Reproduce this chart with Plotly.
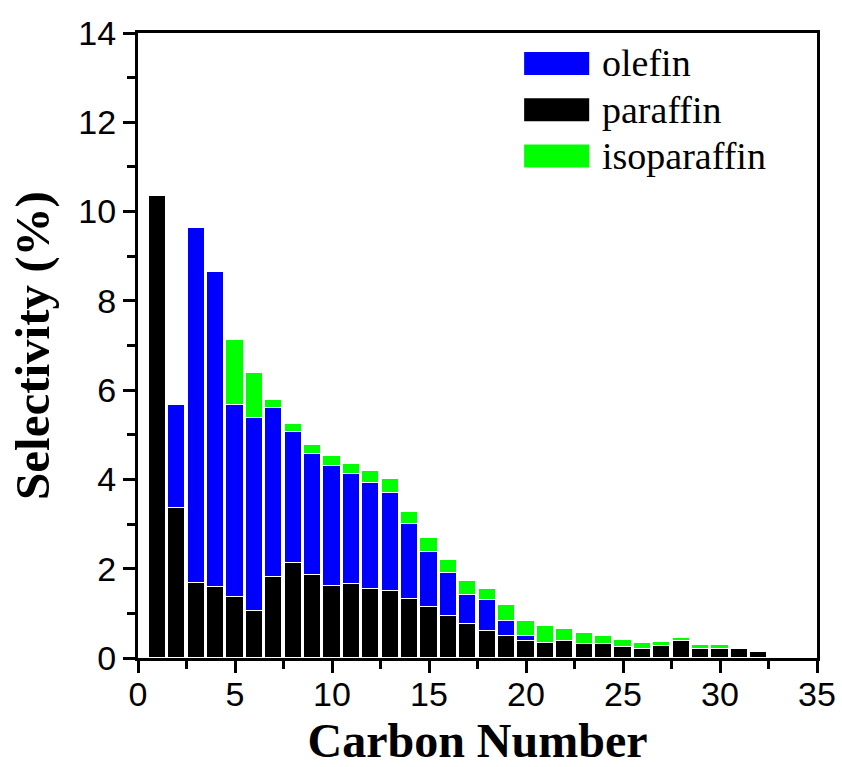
import plotly.graph_objects as go

carbon = list(range(1, 33))
paraffin = [10.35, 3.36, 1.68, 1.60, 1.36, 1.06, 1.81, 2.13, 1.85, 1.61,
            1.66, 1.55, 1.49, 1.32, 1.14, 0.95, 0.77, 0.61, 0.49, 0.39,
            0.34, 0.37, 0.31, 0.31, 0.25, 0.21, 0.28, 0.37, 0.20, 0.20,
            0.20, 0.14]
olefin = [None, 2.30, 7.95, 7.05, 4.30, 4.32, 3.80, 2.93, 2.73, 2.68,
          2.46, 2.36, 2.21, 1.69, 1.24, 0.96, 0.64, 0.69, 0.34, 0.10,
          None, None, None, None, None, None, None, None, None, None,
          None, None]
isoparaffin = [None, None, None, None, 1.46, 1.01, 0.17, 0.19, 0.20, 0.23,
               0.23, 0.28, 0.30, 0.27, 0.31, 0.28, 0.32, 0.24, 0.35, 0.34,
               0.37, 0.27, 0.24, 0.19, 0.15, 0.12, 0.08, 0.07, 0.09, 0.09,
               None, None]

legend_names = ["olefin", "paraffin", "isoparaffin"]
legend_colors = ["#0000FF", "#000000", "#00FF00"]

fig = go.Figure()
for name, vals, col in [("paraffin", paraffin, "#000000"),
                        ("olefin", olefin, "#0000FF"),
                        ("isoparaffin", isoparaffin, "#00FF00")]:
    fig.add_trace(go.Bar(x=carbon, y=vals, name=name, width=0.88,
                         marker=dict(color=col, line=dict(color="white", width=1)),
                         showlegend=False))

# custom legend with wide colour boxes
for i, (nm, col) in enumerate(zip(legend_names, legend_colors)):
    y0 = 0.9695 - i * 0.0740
    fig.add_shape(type="rect", xref="paper", yref="paper",
                  x0=0.5687, x1=0.6645, y0=y0 - 0.0365, y1=y0,
                  fillcolor=col, line=dict(width=0), layer="above")
    fig.add_annotation(xref="paper", yref="paper", x=0.680, y=y0 - 0.018,
                       text=nm, showarrow=False, xanchor="left", yanchor="middle",
                       font=dict(family="Liberation Serif", size=38, color="black"))

axis_common = dict(showline=True, linecolor="black", linewidth=3, mirror=True,
                   ticks="outside", tickwidth=3, tickcolor="black", ticklen=12,
                   showgrid=False, zeroline=False, automargin=False,
                   tickfont=dict(family="Liberation Sans", size=34, color="black"))

fig.update_layout(
    width=842, height=767,
    margin=dict(l=138, r=25, t=33, b=109, autoexpand=False),
    plot_bgcolor="white", paper_bgcolor="white",
    barmode="stack", bargap=0,
    xaxis=dict(range=[0, 35], tick0=0, dtick=5, ticklabelstandoff=-8,
               minor=dict(ticks="outside", dtick=2.5, ticklen=8, tickwidth=3, tickcolor="black"),
               title=dict(text="<b>Carbon Number</b>", standoff=20,
                          font=dict(family="Liberation Serif", size=48, color="black")),
               **axis_common),
    yaxis=dict(range=[0, 14], tick0=0, dtick=2,
               minor=dict(ticks="outside", dtick=1, ticklen=8, tickwidth=3, tickcolor="black"),
               title=dict(text="<b>Selectivity (%)</b>", standoff=14,
                          font=dict(family="Liberation Serif", size=49, color="black")),
               **axis_common),
)

fig.write_html("out.html")
